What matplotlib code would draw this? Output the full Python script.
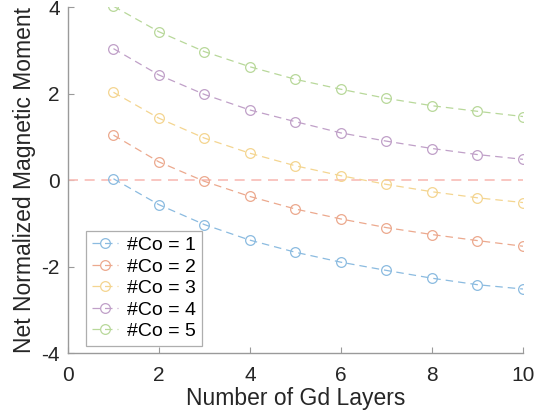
import matplotlib.pyplot as plt

plt.rcParams['font.family'] = ['Liberation Sans', 'DejaVu Sans']
plt.rcParams['axes.unicode_minus'] = False

gd_layers = [1, 2, 3, 4, 5, 6, 7, 8, 9, 10]
co_1 = [0.03, -0.57, -1.03, -1.39, -1.67, -1.90, -2.09, -2.27, -2.42, -2.52]
co_2 = [1.04, 0.42, -0.03, -0.38, -0.67, -0.90, -1.10, -1.26, -1.40, -1.53]
co_3 = [2.03, 1.43, 0.97, 0.62, 0.33, 0.10, -0.10, -0.27, -0.41, -0.52]
co_4 = [3.04, 2.43, 1.98, 1.62, 1.35, 1.09, 0.90, 0.73, 0.59, 0.48]
co_5 = [4.02, 3.43, 2.97, 2.62, 2.33, 2.10, 1.89, 1.72, 1.59, 1.47]
labels = ["#Co = 1", "#Co = 2", "#Co = 3", "#Co = 4", "#Co = 5"]
colors = ["#8bbbe0", "#eca98e", "#f4d590", "#c0a0c8", "#b8d89a"]

fig = plt.figure(figsize=(5.54, 4.19), dpi=100)
ax = fig.add_axes([0.1227, 0.1575, 0.8213, 0.8255])

ax.plot([0, 10], [0, 0], "--", color="#f8bcb6", lw=1.2, dashes=(6, 4))
for ys, lab, c in zip([co_1, co_2, co_3, co_4, co_5], labels, colors):
    ax.plot(gd_layers, ys, "--o", color=c, mfc="none", ms=7, mew=0.9,
            lw=0.9, dashes=(6, 4), label=lab)

ax.set_xlim(0, 10)
ax.set_ylim(-4, 4)
ax.set_xticks([0, 2, 4, 6, 8, 10])
ax.set_yticks([-4, -2, 0, 2, 4])
for s in ["top", "right"]:
    ax.spines[s].set_visible(False)
for s in ["left", "bottom"]:
    ax.spines[s].set_color("#9a9a9a")
    ax.spines[s].set_linewidth(1.0)
ax.tick_params(direction="in", length=4, color="#9a9a9a", labelsize=15,
               labelcolor="#262626", pad=6)
ax.tick_params(axis="x", pad=9)
ax.set_xlabel("Number of Gd Layers", fontsize=16.5, color="#262626", labelpad=2)
ax.set_ylabel("Net Normalized Magnetic Moment", fontsize=16.5, color="#262626",
              labelpad=4)

leg = ax.legend(loc="lower left", bbox_to_anchor=(0.04, 0.02), fontsize=14,
                frameon=True, fancybox=False, handlelength=1.35,
                handletextpad=0.45, labelspacing=0.2, borderpad=0.3,
                borderaxespad=0.0)
leg.get_frame().set_edgecolor("#9a9a9a")
leg.get_frame().set_linewidth(0.9)

fig.savefig("out.png", dpi=100)
